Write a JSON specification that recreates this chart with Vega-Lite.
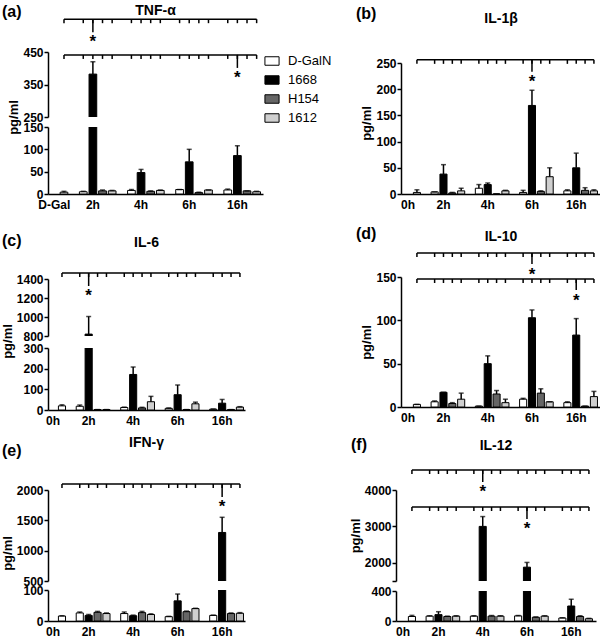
{
"$schema":"https://vega.github.io/schema/vega-lite/v6.json",
"background":"white",
"padding":{"left":1,"top":3,"right":0,"bottom":0},
"datasets":{
"bars":[
{"panel":"a","bar":"0h D-GalN","strain":"D-GalN","mean":4,"upper":6},
{"panel":"a","bar":"2h D-GalN","strain":"D-GalN","mean":5,"upper":6},
{"panel":"a","bar":"2h 1668","strain":"1668","mean":382,"upper":420,"sig":"b1"},
{"panel":"a","bar":"2h H154","strain":"H154","mean":7,"upper":9},
{"panel":"a","bar":"2h 1612","strain":"1612","mean":7,"upper":8},
{"panel":"a","bar":"4h D-GalN","strain":"D-GalN","mean":8,"upper":10},
{"panel":"a","bar":"4h 1668","strain":"1668","mean":48,"upper":55},
{"panel":"a","bar":"4h H154","strain":"H154","mean":6,"upper":7},
{"panel":"a","bar":"4h 1612","strain":"1612","mean":8,"upper":9},
{"panel":"a","bar":"6h D-GalN","strain":"D-GalN","mean":10,"upper":10},
{"panel":"a","bar":"6h 1668","strain":"1668","mean":72,"upper":100},
{"panel":"a","bar":"6h H154","strain":"H154","mean":3,"upper":4},
{"panel":"a","bar":"6h 1612","strain":"1612","mean":9,"upper":9},
{"panel":"a","bar":"16h D-GalN","strain":"D-GalN","mean":9,"upper":11},
{"panel":"a","bar":"16h 1668","strain":"1668","mean":86,"upper":108,"sig":"b2"},
{"panel":"a","bar":"16h H154","strain":"H154","mean":7,"upper":7},
{"panel":"a","bar":"16h 1612","strain":"1612","mean":5,"upper":6},
{"panel":"b","bar":"0h D-GalN","strain":"D-GalN","mean":3,"upper":8},
{"panel":"b","bar":"2h D-GalN","strain":"D-GalN","mean":4,"upper":4},
{"panel":"b","bar":"2h 1668","strain":"1668","mean":38,"upper":56},
{"panel":"b","bar":"2h H154","strain":"H154","mean":2,"upper":3},
{"panel":"b","bar":"2h 1612","strain":"1612","mean":6,"upper":11},
{"panel":"b","bar":"4h D-GalN","strain":"D-GalN","mean":11,"upper":18},
{"panel":"b","bar":"4h 1668","strain":"1668","mean":18,"upper":21},
{"panel":"b","bar":"4h H154","strain":"H154","mean":0,"upper":0},
{"panel":"b","bar":"4h 1612","strain":"1612","mean":6,"upper":7},
{"panel":"b","bar":"6h D-GalN","strain":"D-GalN","mean":3,"upper":7},
{"panel":"b","bar":"6h 1668","strain":"1668","mean":169,"upper":198,"sig":"b1"},
{"panel":"b","bar":"6h H154","strain":"H154","mean":5,"upper":6},
{"panel":"b","bar":"6h 1612","strain":"1612","mean":33,"upper":50},
{"panel":"b","bar":"16h D-GalN","strain":"D-GalN","mean":6,"upper":8},
{"panel":"b","bar":"16h 1668","strain":"1668","mean":50,"upper":78},
{"panel":"b","bar":"16h H154","strain":"H154","mean":7,"upper":12},
{"panel":"b","bar":"16h 1612","strain":"1612","mean":6,"upper":8},
{"panel":"c","bar":"0h D-GalN","strain":"D-GalN","mean":20,"upper":25},
{"panel":"c","bar":"2h D-GalN","strain":"D-GalN","mean":18,"upper":24},
{"panel":"c","bar":"2h 1668","strain":"1668","mean":820,"upper":1005,"sig":"b1"},
{"panel":"c","bar":"2h H154","strain":"H154","mean":2,"upper":2},
{"panel":"c","bar":"2h 1612","strain":"1612","mean":2,"upper":2},
{"panel":"c","bar":"4h D-GalN","strain":"D-GalN","mean":12,"upper":14},
{"panel":"c","bar":"4h 1668","strain":"1668","mean":172,"upper":208},
{"panel":"c","bar":"4h H154","strain":"H154","mean":10,"upper":13},
{"panel":"c","bar":"4h 1612","strain":"1612","mean":40,"upper":66},
{"panel":"c","bar":"6h D-GalN","strain":"D-GalN","mean":8,"upper":10},
{"panel":"c","bar":"6h 1668","strain":"1668","mean":74,"upper":121},
{"panel":"c","bar":"6h H154","strain":"H154","mean":2,"upper":2},
{"panel":"c","bar":"6h 1612","strain":"1612","mean":30,"upper":38},
{"panel":"c","bar":"16h D-GalN","strain":"D-GalN","mean":4,"upper":5},
{"panel":"c","bar":"16h 1668","strain":"1668","mean":33,"upper":51},
{"panel":"c","bar":"16h H154","strain":"H154","mean":2,"upper":2},
{"panel":"c","bar":"16h 1612","strain":"1612","mean":14,"upper":16},
{"panel":"d","bar":"0h D-GalN","strain":"D-GalN","mean":3,"upper":3},
{"panel":"d","bar":"2h D-GalN","strain":"D-GalN","mean":6,"upper":7},
{"panel":"d","bar":"2h 1668","strain":"1668","mean":17,"upper":17},
{"panel":"d","bar":"2h H154","strain":"H154","mean":4,"upper":5},
{"panel":"d","bar":"2h 1612","strain":"1612","mean":9,"upper":16},
{"panel":"d","bar":"4h D-GalN","strain":"D-GalN","mean":1,"upper":1},
{"panel":"d","bar":"4h 1668","strain":"1668","mean":50,"upper":59},
{"panel":"d","bar":"4h H154","strain":"H154","mean":15,"upper":19},
{"panel":"d","bar":"4h 1612","strain":"1612","mean":5,"upper":9},
{"panel":"d","bar":"6h D-GalN","strain":"D-GalN","mean":9,"upper":10},
{"panel":"d","bar":"6h 1668","strain":"1668","mean":103,"upper":112,"sig":"b1"},
{"panel":"d","bar":"6h H154","strain":"H154","mean":16,"upper":21},
{"panel":"d","bar":"6h 1612","strain":"1612","mean":6,"upper":6},
{"panel":"d","bar":"16h D-GalN","strain":"D-GalN","mean":5,"upper":6},
{"panel":"d","bar":"16h 1668","strain":"1668","mean":83,"upper":102,"sig":"b2"},
{"panel":"d","bar":"16h H154","strain":"H154","mean":1,"upper":1},
{"panel":"d","bar":"16h 1612","strain":"1612","mean":12,"upper":18},
{"panel":"e","bar":"0h D-GalN","strain":"D-GalN","mean":16,"upper":17},
{"panel":"e","bar":"2h D-GalN","strain":"D-GalN","mean":26,"upper":29},
{"panel":"e","bar":"2h 1668","strain":"1668","mean":18,"upper":21},
{"panel":"e","bar":"2h H154","strain":"H154","mean":28,"upper":31},
{"panel":"e","bar":"2h 1612","strain":"1612","mean":24,"upper":26},
{"panel":"e","bar":"4h D-GalN","strain":"D-GalN","mean":24,"upper":29},
{"panel":"e","bar":"4h 1668","strain":"1668","mean":17,"upper":19},
{"panel":"e","bar":"4h H154","strain":"H154","mean":27,"upper":31},
{"panel":"e","bar":"4h 1612","strain":"1612","mean":21,"upper":23},
{"panel":"e","bar":"6h D-GalN","strain":"D-GalN","mean":14,"upper":15},
{"panel":"e","bar":"6h 1668","strain":"1668","mean":65,"upper":87},
{"panel":"e","bar":"6h H154","strain":"H154","mean":30,"upper":32},
{"panel":"e","bar":"6h 1612","strain":"1612","mean":40,"upper":41},
{"panel":"e","bar":"16h D-GalN","strain":"D-GalN","mean":18,"upper":19},
{"panel":"e","bar":"16h 1668","strain":"1668","mean":1300,"upper":1550,"sig":"b1"},
{"panel":"e","bar":"16h H154","strain":"H154","mean":24,"upper":26},
{"panel":"e","bar":"16h 1612","strain":"1612","mean":25,"upper":27},
{"panel":"f","bar":"0h D-GalN","strain":"D-GalN","mean":60,"upper":75},
{"panel":"f","bar":"2h D-GalN","strain":"D-GalN","mean":65,"upper":70},
{"panel":"f","bar":"2h 1668","strain":"1668","mean":85,"upper":124},
{"panel":"f","bar":"2h H154","strain":"H154","mean":60,"upper":65},
{"panel":"f","bar":"2h 1612","strain":"1612","mean":65,"upper":70},
{"panel":"f","bar":"4h D-GalN","strain":"D-GalN","mean":65,"upper":70},
{"panel":"f","bar":"4h 1668","strain":"1668","mean":3000,"upper":3270,"sig":"b1"},
{"panel":"f","bar":"4h H154","strain":"H154","mean":65,"upper":73},
{"panel":"f","bar":"4h 1612","strain":"1612","mean":65,"upper":70},
{"panel":"f","bar":"6h D-GalN","strain":"D-GalN","mean":68,"upper":73},
{"panel":"f","bar":"6h 1668","strain":"1668","mean":1880,"upper":2010,"sig":"b2"},
{"panel":"f","bar":"6h H154","strain":"H154","mean":50,"upper":55},
{"panel":"f","bar":"6h 1612","strain":"1612","mean":65,"upper":70},
{"panel":"f","bar":"16h D-GalN","strain":"D-GalN","mean":40,"upper":43},
{"panel":"f","bar":"16h 1668","strain":"1668","mean":200,"upper":290},
{"panel":"f","bar":"16h H154","strain":"H154","mean":60,"upper":70},
{"panel":"f","bar":"16h 1612","strain":"1612","mean":30,"upper":35}
],
"brackets":[
{"panel":"a","b1":551,"b2":441},
{"panel":"b","b1":256},
{"panel":"c","b1":1463},
{"panel":"d","b1":177.7,"b2":147.7},
{"panel":"e","b1":2099},
{"panel":"f","b1":4549,"b2":3533}
]
},
"spacing":15,
"resolve":{"scale":{"x":"independent","y":"independent","color":"shared"}},
"vconcat":[
{
"hconcat":[
{
"title":{"text":"(a)","anchor":"start","frame":"group","dx":-46,"offset":-23.4,"baseline":"middle","fontSize":16,"fontWeight":"bold"},
"bounds":"flush","spacing":10,
"resolve":{"scale":{"x":"shared","y":"independent","color":"shared"}},
"vconcat":[
{"width":215,"height":1,"data":{"values":[]},"mark":"point"},
{"width":215,"height":65,
"title":{"text":"TNF-α","offset":-9.2,"baseline":"middle","fontSize":14,"fontWeight":"bold"},
"data":{"name":"bars"},"transform":[{"filter":"datum.panel == 'a'"}],
"layer":[
{"mark":{"type":"bar","clip":true,"stroke":"black","strokeWidth":1},
"encoding":{"x":{"field":"bar","type":"nominal","scale":{"domain":["pad","0h D-GalN","g1","2h D-GalN","2h 1668","2h H154","2h 1612","g2","4h D-GalN","4h 1668","4h H154","4h 1612","g3","6h D-GalN","6h 1668","6h H154","6h 1612","g4","16h D-GalN","16h 1668","16h H154","16h 1612"],"paddingInner":0.2,"paddingOuter":0.26},"axis":null},
"y":{"field":"mean","type":"quantitative","scale":{"domain":[250,450],"nice":false,"zero":false},"axis":{"values":[250,350,450],"format":"d","labelOverlap":false,"title":"pg/ml","titleY":65}},
"color":{"field":"strain","type":"nominal","scale":{"domain":["D-GalN","1668","H154","1612"],"range":["#ffffff","#000000","#666666","#cfcfcf"]},"legend":{"title":null}}}},
{"mark":{"type":"rule","clip":true,"strokeWidth":1.5,"color":"black"},"encoding":{"x":{"field":"bar","type":"nominal"},"y":{"field":"mean","type":"quantitative","axis":{"values":[250,350,450],"format":"d","labelOverlap":false,"title":"pg/ml","titleY":65}},"y2":{"field":"upper"}}},
{"mark":{"type":"tick","clip":true,"thickness":1.5,"size":5,"color":"black"},"encoding":{"x":{"field":"bar","type":"nominal"},"y":{"field":"upper","type":"quantitative","axis":{"values":[250,350,450],"format":"d","labelOverlap":false,"title":"pg/ml","titleY":65}}}},
{"transform":[{"lookup":"panel","from":{"data":{"name":"brackets"},"key":"panel","fields":["b1","b2"]}},{"fold":["b1","b2"],"as":["bk","level"]},{"filter":"isValid(datum.level)"}],
"layer":[
{"mark":{"type":"line","color":"black","strokeWidth":1.5},"encoding":{"x":{"field":"bar","type":"nominal"},"y":{"field":"level","type":"quantitative","axis":{"values":[250,350,450],"format":"d","labelOverlap":false,"title":"pg/ml","titleY":65}},"detail":{"field":"bk"}}},
{"mark":{"type":"rule","color":"black","strokeWidth":1.5,"y2Offset":4},"encoding":{"x":{"field":"bar","type":"nominal"},"y":{"field":"level","type":"quantitative","axis":{"values":[250,350,450],"format":"d","labelOverlap":false,"title":"pg/ml","titleY":65}},"y2":{"field":"level"}}},
{"transform":[{"filter":"datum.sig == datum.bk"}],"mark":{"type":"rule","color":"black","strokeWidth":1.5,"y2Offset":13},"encoding":{"x":{"field":"bar","type":"nominal"},"y":{"field":"level","type":"quantitative","axis":{"values":[250,350,450],"format":"d","labelOverlap":false,"title":"pg/ml","titleY":65}},"y2":{"field":"level"}}},
{"transform":[{"filter":"datum.sig == datum.bk"}],"mark":{"type":"text","text":"*","fontSize":17,"fontWeight":"bold","baseline":"top","dy":15,"color":"black"},"encoding":{"x":{"field":"bar","type":"nominal"},"y":{"field":"level","type":"quantitative","axis":{"values":[250,350,450],"format":"d","labelOverlap":false,"title":"pg/ml","titleY":65}}}}
]}
]},
{"width":215,"height":67,
"data":{"name":"bars"},"transform":[{"filter":"datum.panel == 'a'"}],
"layer":[
{"mark":{"type":"bar","clip":true,"stroke":"black","strokeWidth":1},
"encoding":{"x":{"field":"bar","type":"nominal","scale":{"domain":["pad","0h D-GalN","g1","2h D-GalN","2h 1668","2h H154","2h 1612","g2","4h D-GalN","4h 1668","4h H154","4h 1612","g3","6h D-GalN","6h 1668","6h H154","6h 1612","g4","16h D-GalN","16h 1668","16h H154","16h 1612"],"paddingInner":0.2,"paddingOuter":0.26},"axis":{"title":null,"labelExpr":"datum.value == 'pad' ? 'D-Gal' : indexof(datum.value, ' 1668') > 0 ? split(datum.value, ' ')[0] : ''"}},
"y":{"field":"mean","type":"quantitative","scale":{"domain":[0,150],"nice":false},"axis":{"values":[0,50,100,150],"format":"d","labelOverlap":false,"title":null}},
"color":{"field":"strain","type":"nominal","scale":{"domain":["D-GalN","1668","H154","1612"],"range":["#ffffff","#000000","#666666","#cfcfcf"]},"legend":{"title":null}}}},
{"mark":{"type":"rule","clip":true,"strokeWidth":1.5,"color":"black"},"encoding":{"x":{"field":"bar","type":"nominal"},"y":{"field":"mean","type":"quantitative","axis":{"values":[0,50,100,150],"format":"d","labelOverlap":false,"title":null}},"y2":{"field":"upper"}}},
{"mark":{"type":"tick","clip":true,"thickness":1.5,"size":5,"color":"black"},"encoding":{"x":{"field":"bar","type":"nominal"},"y":{"field":"upper","type":"quantitative","axis":{"values":[0,50,100,150],"format":"d","labelOverlap":false,"title":null}}}}
]}
]
},
{
"title":{"text":"(b)","anchor":"start","frame":"group","dx":-45,"offset":-17.4,"baseline":"middle","fontSize":16,"fontWeight":"bold"},
"bounds":"flush","spacing":10,
"resolve":{"scale":{"x":"shared","y":"independent","color":"shared"}},
"vconcat":[
{"width":200,"height":11.5,"data":{"values":[]},"mark":"point"},
{"width":200,"height":131,
"title":{"text":"IL-1β","offset":23.7,"baseline":"middle","fontSize":14,"fontWeight":"bold"},
"data":{"name":"bars"},"transform":[{"filter":"datum.panel == 'b'"}],
"layer":[
{"mark":{"type":"bar","clip":true,"stroke":"black","strokeWidth":1},
"encoding":{"x":{"field":"bar","type":"nominal","scale":{"domain":["pad","0h D-GalN","g1","2h D-GalN","2h 1668","2h H154","2h 1612","g2","4h D-GalN","4h 1668","4h H154","4h 1612","g3","6h D-GalN","6h 1668","6h H154","6h 1612","g4","16h D-GalN","16h 1668","16h H154","16h 1612"],"paddingInner":0.2,"paddingOuter":0.4},"axis":{"title":null,"labelExpr":"datum.value == 'pad' ? '0h' : indexof(datum.value, ' 1668') > 0 ? split(datum.value, ' ')[0] : ''"}},
"y":{"field":"mean","type":"quantitative","scale":{"domain":[0,250],"nice":false},"axis":{"values":[0,50,100,150,200,250],"format":"d","labelOverlap":false,"title":"pg/ml","titleY":60}},
"color":{"field":"strain","type":"nominal","scale":{"domain":["D-GalN","1668","H154","1612"],"range":["#ffffff","#000000","#666666","#cfcfcf"]},"legend":{"title":null}}}},
{"mark":{"type":"rule","clip":true,"strokeWidth":1.5,"color":"black"},"encoding":{"x":{"field":"bar","type":"nominal"},"y":{"field":"mean","type":"quantitative","axis":{"values":[0,50,100,150,200,250],"format":"d","labelOverlap":false,"title":"pg/ml","titleY":60}},"y2":{"field":"upper"}}},
{"mark":{"type":"tick","clip":true,"thickness":1.5,"size":5,"color":"black"},"encoding":{"x":{"field":"bar","type":"nominal"},"y":{"field":"upper","type":"quantitative","axis":{"values":[0,50,100,150,200,250],"format":"d","labelOverlap":false,"title":"pg/ml","titleY":60}}}},
{"transform":[{"lookup":"panel","from":{"data":{"name":"brackets"},"key":"panel","fields":["b1","b2"]}},{"fold":["b1","b2"],"as":["bk","level"]},{"filter":"isValid(datum.level)"}],
"layer":[
{"mark":{"type":"line","color":"black","strokeWidth":1.5},"encoding":{"x":{"field":"bar","type":"nominal"},"y":{"field":"level","type":"quantitative","axis":{"values":[0,50,100,150,200,250],"format":"d","labelOverlap":false,"title":"pg/ml","titleY":60}},"detail":{"field":"bk"}}},
{"mark":{"type":"rule","color":"black","strokeWidth":1.5,"y2Offset":4},"encoding":{"x":{"field":"bar","type":"nominal"},"y":{"field":"level","type":"quantitative","axis":{"values":[0,50,100,150,200,250],"format":"d","labelOverlap":false,"title":"pg/ml","titleY":60}},"y2":{"field":"level"}}},
{"transform":[{"filter":"datum.sig == datum.bk"}],"mark":{"type":"rule","color":"black","strokeWidth":1.5,"y2Offset":12},"encoding":{"x":{"field":"bar","type":"nominal"},"y":{"field":"level","type":"quantitative","axis":{"values":[0,50,100,150,200,250],"format":"d","labelOverlap":false,"title":"pg/ml","titleY":60}},"y2":{"field":"level"}}},
{"transform":[{"filter":"datum.sig == datum.bk"}],"mark":{"type":"text","text":"*","fontSize":17,"fontWeight":"bold","baseline":"top","dy":14,"color":"black"},"encoding":{"x":{"field":"bar","type":"nominal"},"y":{"field":"level","type":"quantitative","axis":{"values":[0,50,100,150,200,250],"format":"d","labelOverlap":false,"title":"pg/ml","titleY":60}}}}
]}
]}
]
}
],
"spacing":93,
"resolve":{"scale":{"x":"independent","y":"independent","color":"shared"}}
},
{
"spacing":9,
"resolve":{"scale":{"x":"independent","y":"independent","color":"shared"}},
"vconcat":[
{
"hconcat":[
{
"title":{"text":"(c)","anchor":"start","frame":"group","dx":-46,"offset":-21,"baseline":"middle","fontSize":16,"fontWeight":"bold"},
"bounds":"flush","spacing":12,
"resolve":{"scale":{"x":"shared","y":"independent","color":"shared"}},
"vconcat":[
{"width":197,"height":1,"data":{"values":[]},"mark":"point"},
{"width":197,"height":57,
"title":{"text":"IL-6","offset":13.3,"baseline":"middle","fontSize":14,"fontWeight":"bold"},
"data":{"name":"bars"},"transform":[{"filter":"datum.panel == 'c'"}],
"layer":[
{"mark":{"type":"bar","clip":true,"stroke":"black","strokeWidth":1},
"encoding":{"x":{"field":"bar","type":"nominal","scale":{"domain":["pad","0h D-GalN","g1","2h D-GalN","2h 1668","2h H154","2h 1612","g2","4h D-GalN","4h 1668","4h H154","4h 1612","g3","6h D-GalN","6h 1668","6h H154","6h 1612","g4","16h D-GalN","16h 1668","16h H154","16h 1612"],"paddingInner":0.2,"paddingOuter":0.17},"axis":null},
"y":{"field":"mean","type":"quantitative","scale":{"domain":[800,1400],"nice":false,"zero":false},"axis":{"values":[800,1000,1200,1400],"format":"d","labelOverlap":false,"title":"pg/ml","titleY":62}},
"color":{"field":"strain","type":"nominal","scale":{"domain":["D-GalN","1668","H154","1612"],"range":["#ffffff","#000000","#666666","#cfcfcf"]},"legend":{"title":null}}}},
{"mark":{"type":"rule","clip":true,"strokeWidth":1.5,"color":"black"},"encoding":{"x":{"field":"bar","type":"nominal"},"y":{"field":"mean","type":"quantitative","axis":{"values":[800,1000,1200,1400],"format":"d","labelOverlap":false,"title":"pg/ml","titleY":62}},"y2":{"field":"upper"}}},
{"mark":{"type":"tick","clip":true,"thickness":1.5,"size":5,"color":"black"},"encoding":{"x":{"field":"bar","type":"nominal"},"y":{"field":"upper","type":"quantitative","axis":{"values":[800,1000,1200,1400],"format":"d","labelOverlap":false,"title":"pg/ml","titleY":62}}}},
{"transform":[{"lookup":"panel","from":{"data":{"name":"brackets"},"key":"panel","fields":["b1","b2"]}},{"fold":["b1","b2"],"as":["bk","level"]},{"filter":"isValid(datum.level)"}],
"layer":[
{"mark":{"type":"line","color":"black","strokeWidth":1.5},"encoding":{"x":{"field":"bar","type":"nominal"},"y":{"field":"level","type":"quantitative","axis":{"values":[800,1000,1200,1400],"format":"d","labelOverlap":false,"title":"pg/ml","titleY":62}},"detail":{"field":"bk"}}},
{"mark":{"type":"rule","color":"black","strokeWidth":1.5,"y2Offset":4},"encoding":{"x":{"field":"bar","type":"nominal"},"y":{"field":"level","type":"quantitative","axis":{"values":[800,1000,1200,1400],"format":"d","labelOverlap":false,"title":"pg/ml","titleY":62}},"y2":{"field":"level"}}},
{"transform":[{"filter":"datum.sig == datum.bk"}],"mark":{"type":"rule","color":"black","strokeWidth":1.5,"y2Offset":13},"encoding":{"x":{"field":"bar","type":"nominal"},"y":{"field":"level","type":"quantitative","axis":{"values":[800,1000,1200,1400],"format":"d","labelOverlap":false,"title":"pg/ml","titleY":62}},"y2":{"field":"level"}}},
{"transform":[{"filter":"datum.sig == datum.bk"}],"mark":{"type":"text","text":"*","fontSize":17,"fontWeight":"bold","baseline":"top","dy":15,"color":"black"},"encoding":{"x":{"field":"bar","type":"nominal"},"y":{"field":"level","type":"quantitative","axis":{"values":[800,1000,1200,1400],"format":"d","labelOverlap":false,"title":"pg/ml","titleY":62}}}}
]}
]},
{"width":197,"height":62,
"data":{"name":"bars"},"transform":[{"filter":"datum.panel == 'c'"}],
"layer":[
{"mark":{"type":"bar","clip":true,"stroke":"black","strokeWidth":1},
"encoding":{"x":{"field":"bar","type":"nominal","scale":{"domain":["pad","0h D-GalN","g1","2h D-GalN","2h 1668","2h H154","2h 1612","g2","4h D-GalN","4h 1668","4h H154","4h 1612","g3","6h D-GalN","6h 1668","6h H154","6h 1612","g4","16h D-GalN","16h 1668","16h H154","16h 1612"],"paddingInner":0.2,"paddingOuter":0.17},"axis":{"title":null,"labelExpr":"datum.value == 'pad' ? '0h' : indexof(datum.value, ' 1668') > 0 ? split(datum.value, ' ')[0] : ''"}},
"y":{"field":"mean","type":"quantitative","scale":{"domain":[0,300],"nice":false},"axis":{"values":[0,100,200,300],"format":"d","labelOverlap":false,"title":null}},
"color":{"field":"strain","type":"nominal","scale":{"domain":["D-GalN","1668","H154","1612"],"range":["#ffffff","#000000","#666666","#cfcfcf"]},"legend":{"title":null}}}},
{"mark":{"type":"rule","clip":true,"strokeWidth":1.5,"color":"black"},"encoding":{"x":{"field":"bar","type":"nominal"},"y":{"field":"mean","type":"quantitative","axis":{"values":[0,100,200,300],"format":"d","labelOverlap":false,"title":null}},"y2":{"field":"upper"}}},
{"mark":{"type":"tick","clip":true,"thickness":1.5,"size":5,"color":"black"},"encoding":{"x":{"field":"bar","type":"nominal"},"y":{"field":"upper","type":"quantitative","axis":{"values":[0,100,200,300],"format":"d","labelOverlap":false,"title":null}}}}
]}
]
},
{
"title":{"text":"(d)","anchor":"start","frame":"group","dx":-45,"offset":-20,"baseline":"middle","fontSize":16,"fontWeight":"bold"},
"bounds":"flush","spacing":10,
"resolve":{"scale":{"x":"shared","y":"independent","color":"shared"}},
"vconcat":[
{"width":200,"height":1,"data":{"values":[]},"mark":"point"},
{"width":200,"height":130,
"title":{"text":"IL-10","offset":-0.7,"baseline":"middle","fontSize":14,"fontWeight":"bold"},
"data":{"name":"bars"},"transform":[{"filter":"datum.panel == 'd'"}],
"layer":[
{"mark":{"type":"bar","clip":true,"stroke":"black","strokeWidth":1},
"encoding":{"x":{"field":"bar","type":"nominal","scale":{"domain":["pad","0h D-GalN","g1","2h D-GalN","2h 1668","2h H154","2h 1612","g2","4h D-GalN","4h 1668","4h H154","4h 1612","g3","6h D-GalN","6h 1668","6h H154","6h 1612","g4","16h D-GalN","16h 1668","16h H154","16h 1612"],"paddingInner":0.2,"paddingOuter":0.4},"axis":{"title":null,"labelExpr":"datum.value == 'pad' ? '0h' : indexof(datum.value, ' 1668') > 0 ? split(datum.value, ' ')[0] : ''"}},
"y":{"field":"mean","type":"quantitative","scale":{"domain":[0,150],"nice":false},"axis":{"values":[0,50,100,150],"format":"d","labelOverlap":false,"title":"pg/ml"}},
"color":{"field":"strain","type":"nominal","scale":{"domain":["D-GalN","1668","H154","1612"],"range":["#ffffff","#000000","#666666","#cfcfcf"]},"legend":{"title":null}}}},
{"mark":{"type":"rule","clip":true,"strokeWidth":1.5,"color":"black"},"encoding":{"x":{"field":"bar","type":"nominal"},"y":{"field":"mean","type":"quantitative","axis":{"values":[0,50,100,150],"format":"d","labelOverlap":false,"title":"pg/ml"}},"y2":{"field":"upper"}}},
{"mark":{"type":"tick","clip":true,"thickness":1.5,"size":5,"color":"black"},"encoding":{"x":{"field":"bar","type":"nominal"},"y":{"field":"upper","type":"quantitative","axis":{"values":[0,50,100,150],"format":"d","labelOverlap":false,"title":"pg/ml"}}}},
{"transform":[{"lookup":"panel","from":{"data":{"name":"brackets"},"key":"panel","fields":["b1","b2"]}},{"fold":["b1","b2"],"as":["bk","level"]},{"filter":"isValid(datum.level)"}],
"layer":[
{"mark":{"type":"line","color":"black","strokeWidth":1.5},"encoding":{"x":{"field":"bar","type":"nominal"},"y":{"field":"level","type":"quantitative","axis":{"values":[0,50,100,150],"format":"d","labelOverlap":false,"title":"pg/ml"}},"detail":{"field":"bk"}}},
{"mark":{"type":"rule","color":"black","strokeWidth":1.5,"y2Offset":4},"encoding":{"x":{"field":"bar","type":"nominal"},"y":{"field":"level","type":"quantitative","axis":{"values":[0,50,100,150],"format":"d","labelOverlap":false,"title":"pg/ml"}},"y2":{"field":"level"}}},
{"transform":[{"filter":"datum.sig == datum.bk"}],"mark":{"type":"rule","color":"black","strokeWidth":1.5,"y2Offset":11},"encoding":{"x":{"field":"bar","type":"nominal"},"y":{"field":"level","type":"quantitative","axis":{"values":[0,50,100,150],"format":"d","labelOverlap":false,"title":"pg/ml"}},"y2":{"field":"level"}}},
{"transform":[{"filter":"datum.sig == datum.bk"}],"mark":{"type":"text","text":"*","fontSize":17,"fontWeight":"bold","baseline":"top","dy":14,"color":"black"},"encoding":{"x":{"field":"bar","type":"nominal"},"y":{"field":"level","type":"quantitative","axis":{"values":[0,50,100,150],"format":"d","labelOverlap":false,"title":"pg/ml"}}}}
]}
]}
]
}
],
"spacing":111,
"resolve":{"scale":{"x":"independent","y":"independent","color":"shared"}}
},
{
"hconcat":[
{
"title":{"text":"(e)","anchor":"start","frame":"group","dx":-46,"offset":-31,"baseline":"middle","fontSize":16,"fontWeight":"bold"},
"bounds":"flush","spacing":9,
"resolve":{"scale":{"x":"shared","y":"independent","color":"shared"}},
"vconcat":[
{"width":197,"height":2,"data":{"values":[]},"mark":"point"},
{"width":197,"height":91,
"title":{"text":"IFN-γ","offset":24.3,"baseline":"middle","fontSize":14,"fontWeight":"bold"},
"data":{"name":"bars"},"transform":[{"filter":"datum.panel == 'e'"}],
"layer":[
{"mark":{"type":"bar","clip":true,"stroke":"black","strokeWidth":1},
"encoding":{"x":{"field":"bar","type":"nominal","scale":{"domain":["pad","0h D-GalN","g1","2h D-GalN","2h 1668","2h H154","2h 1612","g2","4h D-GalN","4h 1668","4h H154","4h 1612","g3","6h D-GalN","6h 1668","6h H154","6h 1612","g4","16h D-GalN","16h 1668","16h H154","16h 1612"],"paddingInner":0.2,"paddingOuter":0.17},"axis":null},
"y":{"field":"mean","type":"quantitative","scale":{"domain":[500,2000],"nice":false,"zero":false},"axis":{"values":[500,1000,1500,2000],"format":"d","labelOverlap":false,"title":"pg/ml","titleY":63}},
"color":{"field":"strain","type":"nominal","scale":{"domain":["D-GalN","1668","H154","1612"],"range":["#ffffff","#000000","#666666","#cfcfcf"]},"legend":{"title":null}}}},
{"mark":{"type":"rule","clip":true,"strokeWidth":1.5,"color":"black"},"encoding":{"x":{"field":"bar","type":"nominal"},"y":{"field":"mean","type":"quantitative","axis":{"values":[500,1000,1500,2000],"format":"d","labelOverlap":false,"title":"pg/ml","titleY":63}},"y2":{"field":"upper"}}},
{"mark":{"type":"tick","clip":true,"thickness":1.5,"size":5,"color":"black"},"encoding":{"x":{"field":"bar","type":"nominal"},"y":{"field":"upper","type":"quantitative","axis":{"values":[500,1000,1500,2000],"format":"d","labelOverlap":false,"title":"pg/ml","titleY":63}}}},
{"transform":[{"lookup":"panel","from":{"data":{"name":"brackets"},"key":"panel","fields":["b1","b2"]}},{"fold":["b1","b2"],"as":["bk","level"]},{"filter":"isValid(datum.level)"}],
"layer":[
{"mark":{"type":"line","color":"black","strokeWidth":1.5},"encoding":{"x":{"field":"bar","type":"nominal"},"y":{"field":"level","type":"quantitative","axis":{"values":[500,1000,1500,2000],"format":"d","labelOverlap":false,"title":"pg/ml","titleY":63}},"detail":{"field":"bk"}}},
{"mark":{"type":"rule","color":"black","strokeWidth":1.5,"y2Offset":4},"encoding":{"x":{"field":"bar","type":"nominal"},"y":{"field":"level","type":"quantitative","axis":{"values":[500,1000,1500,2000],"format":"d","labelOverlap":false,"title":"pg/ml","titleY":63}},"y2":{"field":"level"}}},
{"transform":[{"filter":"datum.sig == datum.bk"}],"mark":{"type":"rule","color":"black","strokeWidth":1.5,"y2Offset":13},"encoding":{"x":{"field":"bar","type":"nominal"},"y":{"field":"level","type":"quantitative","axis":{"values":[500,1000,1500,2000],"format":"d","labelOverlap":false,"title":"pg/ml","titleY":63}},"y2":{"field":"level"}}},
{"transform":[{"filter":"datum.sig == datum.bk"}],"mark":{"type":"text","text":"*","fontSize":17,"fontWeight":"bold","baseline":"top","dy":15,"color":"black"},"encoding":{"x":{"field":"bar","type":"nominal"},"y":{"field":"level","type":"quantitative","axis":{"values":[500,1000,1500,2000],"format":"d","labelOverlap":false,"title":"pg/ml","titleY":63}}}}
]}
]},
{"width":197,"height":31,
"data":{"name":"bars"},"transform":[{"filter":"datum.panel == 'e'"}],
"layer":[
{"mark":{"type":"bar","clip":true,"stroke":"black","strokeWidth":1},
"encoding":{"x":{"field":"bar","type":"nominal","scale":{"domain":["pad","0h D-GalN","g1","2h D-GalN","2h 1668","2h H154","2h 1612","g2","4h D-GalN","4h 1668","4h H154","4h 1612","g3","6h D-GalN","6h 1668","6h H154","6h 1612","g4","16h D-GalN","16h 1668","16h H154","16h 1612"],"paddingInner":0.2,"paddingOuter":0.17},"axis":{"title":null,"labelExpr":"datum.value == 'pad' ? '0h' : indexof(datum.value, ' 1668') > 0 ? split(datum.value, ' ')[0] : ''"}},
"y":{"field":"mean","type":"quantitative","scale":{"domain":[0,100],"nice":false},"axis":{"values":[0,100],"format":"d","labelOverlap":false,"title":null}},
"color":{"field":"strain","type":"nominal","scale":{"domain":["D-GalN","1668","H154","1612"],"range":["#ffffff","#000000","#666666","#cfcfcf"]},"legend":{"title":null}}}},
{"mark":{"type":"rule","clip":true,"strokeWidth":1.5,"color":"black"},"encoding":{"x":{"field":"bar","type":"nominal"},"y":{"field":"mean","type":"quantitative","axis":{"values":[0,100],"format":"d","labelOverlap":false,"title":null}},"y2":{"field":"upper"}}},
{"mark":{"type":"tick","clip":true,"thickness":1.5,"size":5,"color":"black"},"encoding":{"x":{"field":"bar","type":"nominal"},"y":{"field":"upper","type":"quantitative","axis":{"values":[0,100],"format":"d","labelOverlap":false,"title":null}}}}
]}
]
},
{
"title":{"text":"(f)","anchor":"start","frame":"group","dx":-45,"offset":-22,"baseline":"middle","fontSize":16,"fontWeight":"bold"},
"bounds":"flush","spacing":10,
"resolve":{"scale":{"x":"shared","y":"independent","color":"shared"}},
"vconcat":[
{"width":200,"height":1,"data":{"values":[]},"mark":"point"},
{"width":200,"height":91,
"title":{"text":"IL-12","offset":7.3,"baseline":"middle","fontSize":14,"fontWeight":"bold"},
"data":{"name":"bars"},"transform":[{"filter":"datum.panel == 'f'"}],
"layer":[
{"mark":{"type":"bar","clip":true,"stroke":"black","strokeWidth":1},
"encoding":{"x":{"field":"bar","type":"nominal","scale":{"domain":["pad","0h D-GalN","g1","2h D-GalN","2h 1668","2h H154","2h 1612","g2","4h D-GalN","4h 1668","4h H154","4h 1612","g3","6h D-GalN","6h 1668","6h H154","6h 1612","g4","16h D-GalN","16h 1668","16h H154","16h 1612"],"paddingInner":0.2,"paddingOuter":0.4},"axis":null},
"y":{"field":"mean","type":"quantitative","scale":{"domain":[1500,4000],"nice":false,"zero":false},"axis":{"values":[1500,2000,3000,4000],"format":"d","labelOverlap":false,"labelExpr":"datum.value == 1500 ? '' : datum.label","title":"pg/ml"}},
"color":{"field":"strain","type":"nominal","scale":{"domain":["D-GalN","1668","H154","1612"],"range":["#ffffff","#000000","#666666","#cfcfcf"]},"legend":{"title":null}}}},
{"mark":{"type":"rule","clip":true,"strokeWidth":1.5,"color":"black"},"encoding":{"x":{"field":"bar","type":"nominal"},"y":{"field":"mean","type":"quantitative","axis":{"values":[1500,2000,3000,4000],"format":"d","labelOverlap":false,"labelExpr":"datum.value == 1500 ? '' : datum.label","title":"pg/ml"}},"y2":{"field":"upper"}}},
{"mark":{"type":"tick","clip":true,"thickness":1.5,"size":5,"color":"black"},"encoding":{"x":{"field":"bar","type":"nominal"},"y":{"field":"upper","type":"quantitative","axis":{"values":[1500,2000,3000,4000],"format":"d","labelOverlap":false,"labelExpr":"datum.value == 1500 ? '' : datum.label","title":"pg/ml"}}}},
{"transform":[{"lookup":"panel","from":{"data":{"name":"brackets"},"key":"panel","fields":["b1","b2"]}},{"fold":["b1","b2"],"as":["bk","level"]},{"filter":"isValid(datum.level)"}],
"layer":[
{"mark":{"type":"line","color":"black","strokeWidth":1.5},"encoding":{"x":{"field":"bar","type":"nominal"},"y":{"field":"level","type":"quantitative","axis":{"values":[1500,2000,3000,4000],"format":"d","labelOverlap":false,"labelExpr":"datum.value == 1500 ? '' : datum.label","title":"pg/ml"}},"detail":{"field":"bk"}}},
{"mark":{"type":"rule","color":"black","strokeWidth":1.5,"y2Offset":4},"encoding":{"x":{"field":"bar","type":"nominal"},"y":{"field":"level","type":"quantitative","axis":{"values":[1500,2000,3000,4000],"format":"d","labelOverlap":false,"labelExpr":"datum.value == 1500 ? '' : datum.label","title":"pg/ml"}},"y2":{"field":"level"}}},
{"transform":[{"filter":"datum.sig == datum.bk"}],"mark":{"type":"rule","color":"black","strokeWidth":1.5,"y2Offset":12},"encoding":{"x":{"field":"bar","type":"nominal"},"y":{"field":"level","type":"quantitative","axis":{"values":[1500,2000,3000,4000],"format":"d","labelOverlap":false,"labelExpr":"datum.value == 1500 ? '' : datum.label","title":"pg/ml"}},"y2":{"field":"level"}}},
{"transform":[{"filter":"datum.sig == datum.bk"}],"mark":{"type":"text","text":"*","fontSize":17,"fontWeight":"bold","baseline":"top","dy":14,"color":"black"},"encoding":{"x":{"field":"bar","type":"nominal"},"y":{"field":"level","type":"quantitative","axis":{"values":[1500,2000,3000,4000],"format":"d","labelOverlap":false,"labelExpr":"datum.value == 1500 ? '' : datum.label","title":"pg/ml"}}}}
]}
]},
{"width":200,"height":30,
"data":{"name":"bars"},"transform":[{"filter":"datum.panel == 'f'"}],
"layer":[
{"mark":{"type":"bar","clip":true,"stroke":"black","strokeWidth":1},
"encoding":{"x":{"field":"bar","type":"nominal","scale":{"domain":["pad","0h D-GalN","g1","2h D-GalN","2h 1668","2h H154","2h 1612","g2","4h D-GalN","4h 1668","4h H154","4h 1612","g3","6h D-GalN","6h 1668","6h H154","6h 1612","g4","16h D-GalN","16h 1668","16h H154","16h 1612"],"paddingInner":0.2,"paddingOuter":0.4},"axis":{"title":null,"labelExpr":"datum.value == 'pad' ? '0h' : indexof(datum.value, ' 1668') > 0 ? split(datum.value, ' ')[0] : ''"}},
"y":{"field":"mean","type":"quantitative","scale":{"domain":[0,400],"nice":false},"axis":{"values":[0,400],"format":"d","labelOverlap":false,"title":null}},
"color":{"field":"strain","type":"nominal","scale":{"domain":["D-GalN","1668","H154","1612"],"range":["#ffffff","#000000","#666666","#cfcfcf"]},"legend":{"title":null}}}},
{"mark":{"type":"rule","clip":true,"strokeWidth":1.5,"color":"black"},"encoding":{"x":{"field":"bar","type":"nominal"},"y":{"field":"mean","type":"quantitative","axis":{"values":[0,400],"format":"d","labelOverlap":false,"title":null}},"y2":{"field":"upper"}}},
{"mark":{"type":"tick","clip":true,"thickness":1.5,"size":5,"color":"black"},"encoding":{"x":{"field":"bar","type":"nominal"},"y":{"field":"upper","type":"quantitative","axis":{"values":[0,400],"format":"d","labelOverlap":false,"title":null}}}}
]}
]
}
],
"spacing":104,
"resolve":{"scale":{"x":"independent","y":"independent","color":"shared"}}
}
]
}
],
"config":{
"font":"Liberation Sans",
"view":{"stroke":null},
"axis":{"labelFont":"Liberation Sans","labelFontSize":12,"labelFontWeight":"bold","labelColor":"black","labelOverlap":false,"domainColor":"black","domainWidth":1.5,"tickColor":"black","tickWidth":1.5,"tickSize":4,"grid":false,"titleFont":"Liberation Sans","titleFontSize":13,"titleFontWeight":"bold","titleColor":"black","labelPadding":1,"titlePadding":2},
"axisX":{"ticks":false,"labelAngle":0,"labelPadding":5},
"legend":{"orient":"none","legendX":216,"legendY":12,"labelFont":"Liberation Sans","labelFontSize":13,"labelColor":"black","symbolType":"M-1,-0.6H1V0.6H-1Z","symbolSize":200,"symbolStrokeColor":"black","symbolStrokeWidth":1,"rowPadding":4,"labelOffset":8},
"title":{"font":"Liberation Sans","color":"black"}
}
}
